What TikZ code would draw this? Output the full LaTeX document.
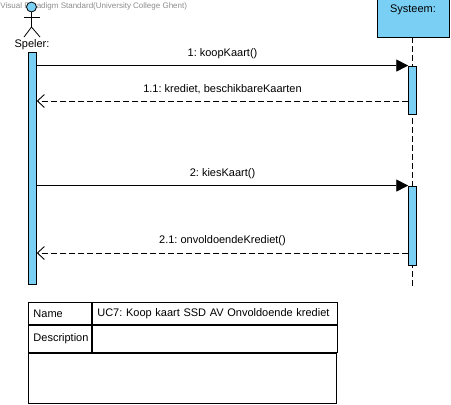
\documentclass[tikz,border=0pt]{standalone}
\usepackage{fontspec}
\setmainfont{Liberation Sans}
\usetikzlibrary{arrows.meta}
\definecolor{vpblue}{HTML}{7ACFF5}
\definecolor{wmgray}{HTML}{8C8C8C}
\frenchspacing
\begin{document}
\begin{tikzpicture}[x=1pt,y=-1pt,line width=0.9pt,
  every node/.style={font=\fontsize{11}{13}\selectfont},
  actbar/.style={draw,fill=vpblue,minimum width=8,inner sep=0},
  lifeline/.style={dash pattern=on 6pt off 3pt,line width=0.8pt},
  callmsg/.style={-{Triangle[length=12pt,width=12pt]}},
  retmsg/.style={dash pattern=on 6pt off 3pt,-{Straight Barb[length=7pt,width=13pt]}},
  msglabel/.style={inner sep=0,anchor=center},
  cell/.style={draw,inner xsep=5pt,inner ysep=0,align=left,anchor=north west}]
\useasboundingbox (0,0) rectangle (451,405);
% watermark
\node[anchor=west,inner sep=0,text=wmgray,font=\fontsize{8}{9}\selectfont] (wm) at (0,6.5) {Visual Paradigm Standard(University College Ghent)};
% actor Speler
\node[circle,draw,fill=vpblue,minimum size=10,inner sep=0,line width=0.8pt] (head) at (31.5,7) {};
\coordinate (hip) at (31.5,27);
\coordinate (armL) at (24,17);
\coordinate (armR) at (40,17);
\coordinate (legL) at (24,37);
\coordinate (legR) at (40,37);
\draw[line width=0.8pt] (head.south) -- (hip);
\draw[line width=0.8pt] (armL) -- (armR);
\draw[line width=0.8pt] (legL) -- (hip) -- (legR);
\node[inner sep=0] (speler) at (32,45) {Speler:};
\node[actbar,minimum height=232] (spbar) at (32.3,168) {};
% Systeem
\node[draw,fill=vpblue,minimum width=72,minimum height=38,inner sep=0] (sys) at (413,18) {};
\node[inner sep=0] (systxt) at (413,10) {Systeem:};
\coordinate (sysend) at (412.7,286);
\draw[lifeline] (sys.south -| sysend) -- (sysend);
\node[actbar,minimum height=48] (act1) at (412.7,90) {};
\node[actbar,minimum height=79] (act2) at (412.7,225.5) {};
% message coordinates
\coordinate (r1b) at (act1.west |- 0,101);
\coordinate (r1e) at (spbar.east |- 0,101);
\coordinate (r2b) at (act2.west |- 0,253);
\coordinate (r2e) at (spbar.east |- 0,253);
% messages
\draw[callmsg] (spbar.east |- act1.north) -- node[msglabel,yshift=12] (l1) {1: koopKaart()} (act1.north west);
\draw[retmsg] (r1b) -- node[msglabel,yshift=12] (l11) {1.1: krediet, beschikbareKaarten} (r1e);
\draw[callmsg] (spbar.east |- act2.north) -- node[msglabel,yshift=12] (l2) {2: kiesKaart()} (act2.north west);
\draw[retmsg] (r2b) -- node[msglabel,yshift=12.5] (l21) {2.1: onvoldoendeKrediet()} (r2e);
% table
\node[cell,text width=53,minimum height=22] (nameL) at (28,302) {Name};
\node[cell,text width=235,minimum height=22] (nameR) at (nameL.north east) {UC7: Koop kaart SSD AV Onvoldoende krediet};
\node[cell,text width=53,minimum height=27] (descL) at (nameL.south west) {Description};
\node[cell,text width=235,minimum height=27] (descR) at (descL.north east) {};
\node[cell,text width=298,minimum height=50] (body) at (descL.south west) {};
\end{tikzpicture}
\end{document}
